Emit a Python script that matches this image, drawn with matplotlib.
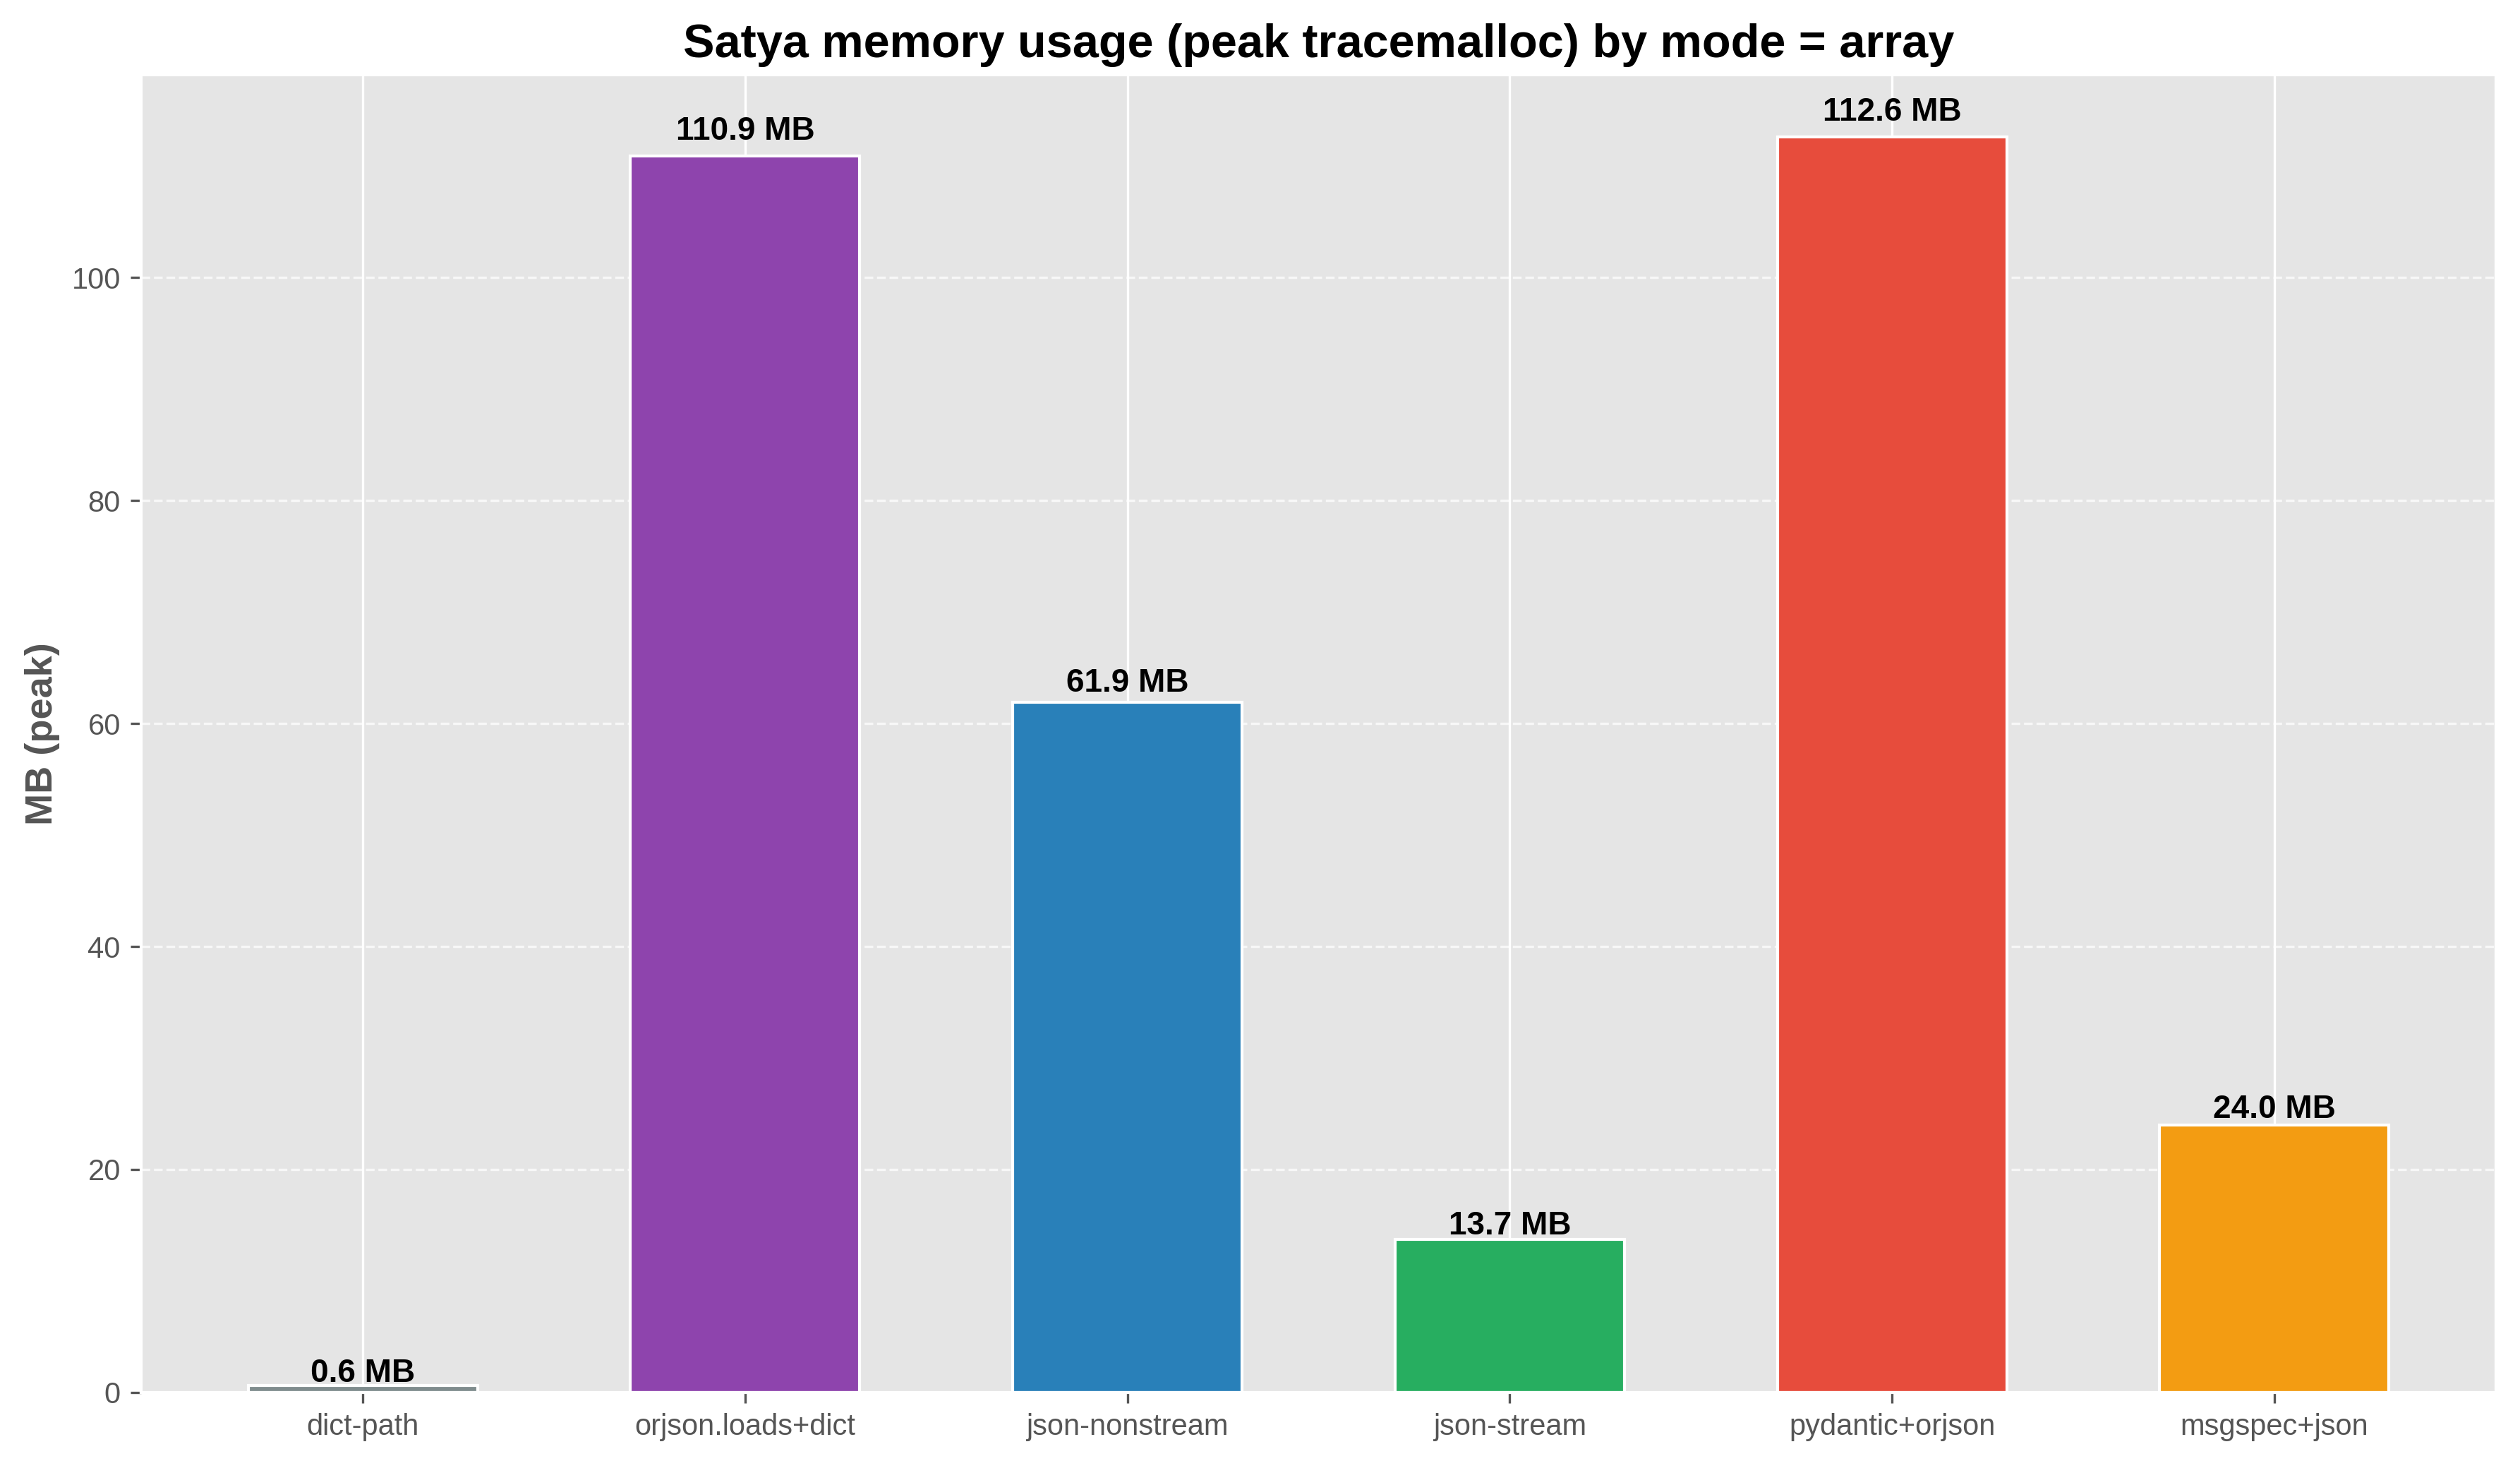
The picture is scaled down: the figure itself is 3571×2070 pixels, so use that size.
import matplotlib
matplotlib.use("Agg")
import matplotlib.pyplot as plt

plt.style.use("ggplot")
plt.rcParams['font.family'] = ['Liberation Sans', 'DejaVu Sans']

# Data
methods = ["dict-path", "orjson.loads+dict", "json-nonstream", "json-stream",
           "pydantic+orjson", "msgspec+json"]
peak_mb = [0.6, 110.9, 61.9, 13.7, 112.6, 24.0]
colors = ["#7f8c8d", "#8e44ad", "#2980b9", "#27ae60", "#e74c3c", "#f39c12"]

fig, ax = plt.subplots(figsize=(3571 / 300, 2070 / 300), dpi=300)
fig.subplots_adjust(left=0.056, right=0.9905, top=0.949, bottom=0.047)

x = range(len(methods))
bars = ax.bar(x, peak_mb, width=0.6, color=colors, edgecolor="white", linewidth=1)

ymax = max(peak_mb)
for b, v in zip(bars, peak_mb):
    ax.text(b.get_x() + b.get_width() / 2, v * 1.01 + 0.35, f"{v:.1f} MB",
            ha="center", va="baseline", fontsize=11, fontweight="bold", color="black")

ax.set_xticks(list(x))
ax.set_xticklabels(methods, fontsize=10)
ax.tick_params(axis="y", labelsize=10)
ax.set_ylim(0, ymax * 1.05)
ax.set_ylabel("MB (peak)", fontsize=13, fontweight="bold", color="#555555")
ax.set_title("Satya memory usage (peak tracemalloc) by mode = array",
             fontsize=16, fontweight="bold", color="black")
ax.yaxis.grid(True, linestyle="--", alpha=0.7)

fig.savefig("out.png", dpi=300)
